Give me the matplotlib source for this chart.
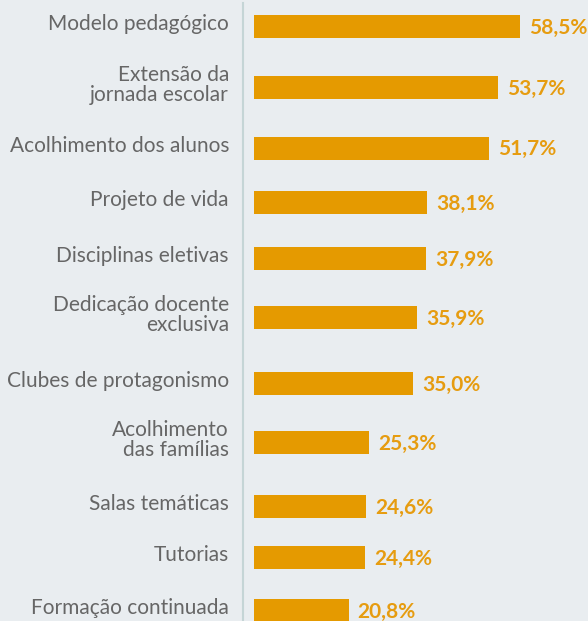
import matplotlib.pyplot as plt

# Data
categories = ["Modelo pedagógico", "Extensão da\njornada escolar", "Acolhimento dos alunos",
              "Projeto de vida", "Disciplinas eletivas", "Dedicação docente\nexclusiva",
              "Clubes de protagonismo", "Acolhimento\ndas famílias", "Salas temáticas",
              "Tutorias", "Formação continuada"]
values = [58.5, 53.7, 51.7, 38.1, 37.9, 35.9, 35.0, 25.3, 24.6, 24.4, 20.8]
value_labels = ["58,5%", "53,7%", "51,7%", "38,1%", "37,9%", "35,9%", "35,0%",
                "25,3%", "24,6%", "24,4%", "20,8%"]

# layout: row centres in pixels from the top
row_pos = [26.5, 87.5, 148.3, 202.5, 258.5, 317.5, 383.5, 442.5, 506.5, 557.5, 610.5]

bg = "#e9edf0"
bar_color = "#e59a00"
W, H = 588, 621
x0 = 254
px_per_unit = 4.545

fig = plt.figure(figsize=(W / 100, H / 100), dpi=100, facecolor=bg)
ax = fig.add_axes([x0 / W, 0, (W - x0) / W, 1])
ax.set_facecolor(bg)
ax.set_xlim(0, (W - x0) / px_per_unit)
ax.set_ylim(H, 0)
ax.axis("off")

ax.barh(row_pos, values, height=23, color=bar_color)

for y, v, lab in zip(row_pos, values, value_labels):
    ax.text(v + 9 / px_per_unit, y + 1, lab, ha="left", va="center",
            fontsize=15, fontweight="bold", color="#e69c10", family="Lato")

# category labels and separator line
for y, cat in zip(row_pos, categories):
    fig.text(229 / W, 1 - (y - 2.5) / H, cat, ha="right", va="center",
             fontsize=15, color="#666666", family="Lato", linespacing=1.05)

fig.add_artist(plt.Line2D([242.5 / W, 242.5 / W], [0, 1 - 3 / H],
                          color="#c5d5d6", lw=1.5))

fig.savefig("out.png", dpi=100, facecolor=bg)
